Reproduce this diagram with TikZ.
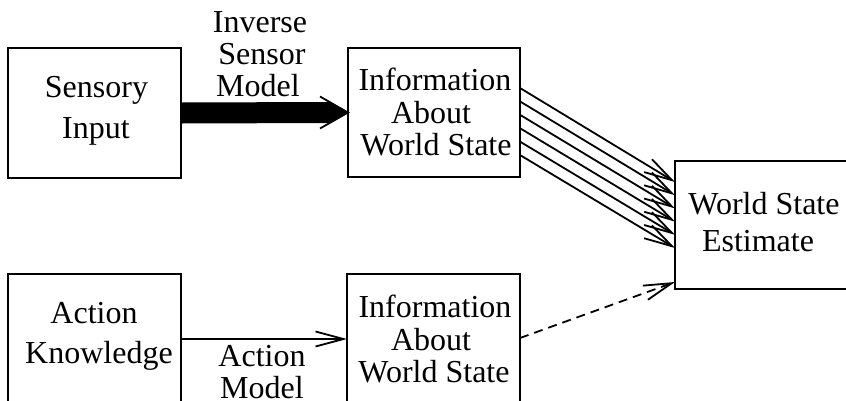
\documentclass[tikz,border=0pt]{standalone}
\usepackage{fontspec}
\setmainfont{Liberation Serif}
\usetikzlibrary{arrows.meta,calc}
\begin{document}
\begin{tikzpicture}[x=1pt,y=-1pt,
  box/.style={draw,line width=2pt,inner sep=0pt,outer sep=0pt,minimum height=130pt},
  txt/.style={anchor=base,inner sep=0pt,font=\fontsize{32}{38}\selectfont},
  conn/.style={line width=1.8pt,-{Straight Barb[length=28pt,width=15pt]}},
  dconn/.style={conn,dash pattern=on 9pt off 6pt}]
\useasboundingbox (0,0) rectangle (846,400);
\clip (0,0) rectangle (846,400);

% boxes
\node[box,minimum width=173.5pt] (si) at (94.25,113) {};
\node[box,minimum width=172pt,minimum height=129pt] (i1) at (434,112.5) {};
\node[box,minimum width=230pt,minimum height=128pt] (wse) at (790,225) {};
\node[box,minimum width=173pt] (ak) at (94.5,339) {};
\node[box,minimum width=173pt] (i2) at (433.5,339) {};

% box texts
\node[txt] (si1) at (96.5,97) {Sensory};
\node[txt] (si2) at (96,138) {Input};
\node[txt] (i1a) at (435,90) {Information};
\node[txt] (i1b) at (431,123) {About};
\node[txt] (i1c) at (436,155) {World State};
\node[txt] (w1) at (764,214) {World State};
\node[txt] (w2) at (758,251) {Estimate};
\node[txt] (ak1) at (94,323) {Action};
\node[txt] (ak2) at (99,363) {Knowledge};
\node[txt] (i2a) at (435,317) {Information};
\node[txt] (i2b) at (431,350) {About};
\node[txt] (i2c) at (434,382) {World State};

% edge labels
\node[txt] (l1) at (260,32) {Inverse};
\node[txt] (l2) at (262,64) {Sensor};
\node[txt] (l3) at (258,96) {Model};
\node[txt] (l4) at (262,366) {Action};
\node[txt] (l5) at (262,398) {Model};

% thick arrow
\fill ($(si.east)+(0,-10.5)$) -- ($(i1.west)+(-19,-10.5)$) -- (i1.west)
  -- ($(i1.west)+(-19,10.5)$) -- ($(si.east)+(0,10.5)$) -- cycle;
\draw[line width=1.8pt] ($(i1.west)+(-28,-16)$) -- (i1.west) -- ($(i1.west)+(-28,16)$);

% six arrows
\foreach \k in {0,...,5}{
  \draw[conn] ($(i1.east)+(0,{-24.5+13.4*\k})$) -- ($(wse.west)+(0,{-43+13.2*\k})$);
}

% action model arrow
\draw[conn] (ak.east) -- (i2.west);

% dashed arrow
\draw[dconn] ($(i2.east)+(0,-1)$) -- ($(wse.south west)+(0,-7)$);
\end{tikzpicture}
\end{document}
